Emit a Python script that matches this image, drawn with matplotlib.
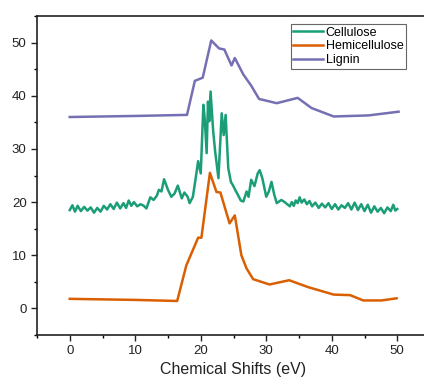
import matplotlib
matplotlib.use("Agg")
import matplotlib.pyplot as plt
from matplotlib.ticker import MultipleLocator

plt.rcParams['font.family'] = ['Liberation Sans', 'DejaVu Sans']

# Cellulose (green)
cel_x = [0, 0.4, 0.8, 1.2, 1.7, 2.2, 2.7, 3.2, 3.7, 4.2, 4.7, 5.2, 5.7, 6.2, 6.7, 7.2, 7.7, 8.2,
         8.6, 9.0, 9.4, 9.8, 10.3, 10.8, 11.3, 11.7, 12.3, 12.8, 13.3, 13.6, 14.0, 14.4, 15.0,
         15.5, 16.0, 16.5, 17.1, 17.5, 18.0, 18.3, 18.8, 19.3, 19.6, 20.0, 20.4, 20.6, 20.9,
         21.1, 21.3, 21.5, 21.9, 22.2, 22.7, 23.2, 23.5, 23.8, 24.2, 24.6, 24.9, 25.3, 25.7,
         26.1, 26.5, 27.0, 27.3, 27.7, 28.2, 28.7, 29.0, 29.4, 30.0, 30.4, 30.8, 31.2, 31.6,
         32.3, 32.8, 33.3, 33.6, 33.9, 34.2, 34.5, 34.8, 35.1, 35.4, 35.8, 36.2, 36.6, 37.0,
         37.5, 38.0, 38.5, 39.0, 39.5, 40.0, 40.5, 41.0, 41.5, 42.0, 42.5, 43.0, 43.5, 44.0,
         44.5, 45.0, 45.5, 46.0, 46.5, 47.0, 47.5, 48.0, 48.5, 49.0, 49.4, 49.7, 50.0]
cel_y = [18.5, 19.4, 18.2, 19.3, 18.3, 19.1, 18.4, 19.0, 18.0, 18.9, 18.2, 19.3, 18.6, 19.6, 18.7,
         19.9, 18.8, 19.8, 18.9, 20.3, 19.3, 20.0, 19.2, 19.6, 19.3, 18.8, 20.9, 20.4, 21.2,
         22.3, 22.0, 24.3, 22.3, 21.0, 21.6, 23.1, 20.7, 21.8, 21.0, 19.8, 21.0, 25.1, 27.7,
         25.4, 38.3, 35.8, 29.2, 38.9, 35.2, 40.8, 33.3, 29.5, 24.5, 36.7, 32.6, 36.4, 26.4,
         23.8, 23.2, 22.2, 21.3, 20.3, 20.1, 22.0, 21.0, 24.2, 23.0, 25.4, 26.0, 24.5, 21.0,
         22.0, 23.8, 21.5, 19.8, 20.4, 20.0, 19.5, 19.2, 20.0, 19.3, 20.3, 19.8, 20.9, 19.9,
         20.5, 19.6, 20.2, 19.2, 19.9, 18.9, 19.7, 19.0, 19.8, 18.7, 19.6, 18.6, 19.4, 18.9,
         19.8, 18.6, 19.9, 18.5, 19.6, 18.3, 19.5, 18.0, 19.2, 18.2, 18.9, 17.9, 19.0, 18.3,
         19.5, 18.4, 18.7]

# Hemicellulose (orange)
hem_x = [0, 5, 10, 16.4, 17.8, 19.6, 20.1, 21.4, 22.4, 23.0, 24.4, 25.2, 26.2, 27.0, 28.0,
         30.5, 33.5, 36.4, 40.3, 42.8, 44.8, 47.6, 49.9]
hem_y = [1.8, 1.7, 1.6, 1.4, 8.1, 13.3, 13.3, 25.5, 21.9, 21.8, 16.0, 17.5, 10.0, 7.5, 5.5,
         4.5, 5.3, 4.0, 2.6, 2.5, 1.5, 1.5, 1.9]

# Lignin (purple)
lig_x = [0, 5, 10, 17.9, 19.1, 20.3, 21.6, 22.8, 23.6, 24.7, 25.2, 26.5, 27.7, 28.9, 31.6,
         34.8, 36.9, 40.3, 45.6, 50.2]
lig_y = [36.0, 36.1, 36.2, 36.4, 42.8, 43.4, 50.4, 48.9, 48.7, 45.7, 47.1, 44.0, 41.9, 39.4,
         38.6, 39.6, 37.7, 36.1, 36.3, 37.0]

labels = ["Cellulose", "Hemicellulose", "Lignin"]
colors = ["#1b9e77", "#d95f02", "#7570b3"]

W, H = 424, 383
fig = plt.figure(figsize=(W / 100, H / 100), dpi=100)
ax = fig.add_axes([37 / W, 48 / H, 393 / W, 319 / H])

ax.plot(cel_x, cel_y, color=colors[0], lw=1.8, label=labels[0])
ax.plot(hem_x, hem_y, color=colors[1], lw=1.8, label=labels[1])
ax.plot(lig_x, lig_y, color=colors[2], lw=1.8, label=labels[2])

ax.set_xlim(-5, 55)
ax.set_ylim(-5, 55)
ax.xaxis.set_major_locator(MultipleLocator(10))
ax.xaxis.set_minor_locator(MultipleLocator(5))
ax.yaxis.set_major_locator(MultipleLocator(10))
ax.yaxis.set_minor_locator(MultipleLocator(5))
ax.tick_params(which='major', direction='out', length=4, width=1, labelsize=9.5, colors='#222222')
ax.tick_params(which='minor', direction='out', length=2.5, width=1)
for s in ax.spines.values():
    s.set_linewidth(1.2)
    s.set_color('#222222')

ax.set_xlabel("Chemical Shifts (eV)", fontsize=11.5, labelpad=3, color='#222222')

leg = ax.legend(loc='upper right', bbox_to_anchor=(406 / W, 1 - 24 / H),
                bbox_transform=fig.transFigure, borderaxespad=0, fontsize=9,
                fancybox=False, framealpha=1, edgecolor='#666666', handlelength=2.4,
                handletextpad=0.2, labelspacing=0.15, borderpad=0.2)
leg.get_frame().set_linewidth(0.8)

fig.savefig("out.png", dpi=100)
